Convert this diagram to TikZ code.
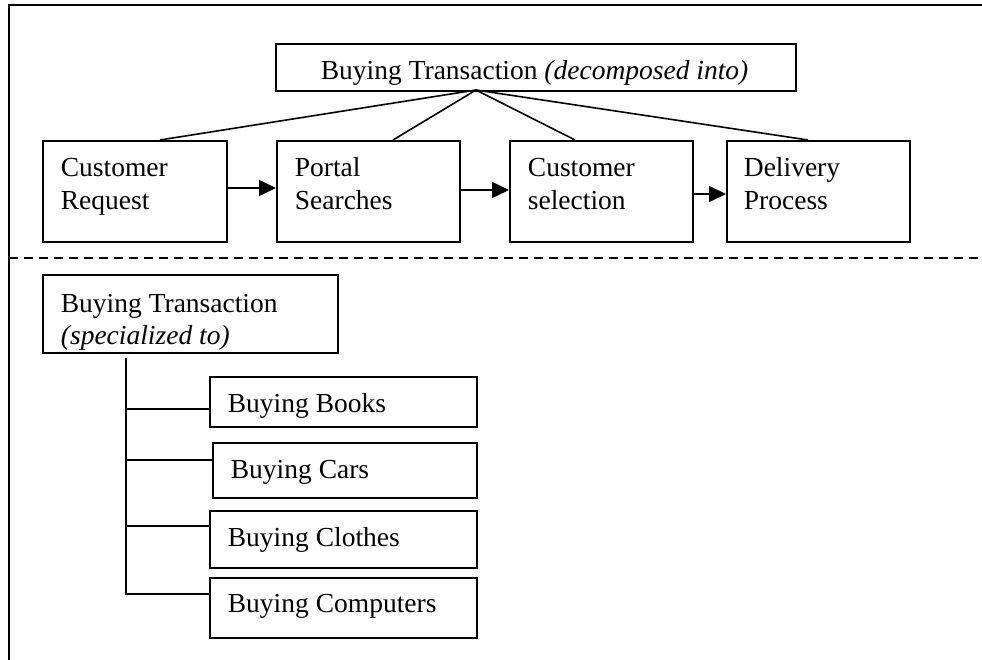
\documentclass[tikz,border=0pt]{standalone}
\usepackage{fontspec}
\setmainfont{Liberation Serif}
\usetikzlibrary{arrows.meta,calc}
\begin{document}
\begin{tikzpicture}[x=1pt,y=-1pt,
  line width=1.8pt,
  boxnode/.style={draw,line width=1.8pt,rectangle,anchor=north west,inner sep=0pt,minimum width=#1},
  lbl/.style={anchor=base west,inner sep=0pt,font=\fontsize{27.5}{33}\selectfont},
  arr/.style={-{Triangle[length=17pt,width=16pt]},line width=1.6pt},
  conn/.style={line width=1.6pt}
]
\useasboundingbox (0,0) rectangle (982,660);
% frame
\draw[line width=2pt] (9,660) -- (9,5) -- (982,5);
\draw[line width=1.6pt,dash pattern=on 9pt off 6pt] (9,258) -- (982,258);

% top row
\node[boxnode=520pt,minimum height=47pt] (top) at (275,43) {};
\node[lbl] (toplbl) at (320,80) {Buying Transaction \textit{(decomposed into)}};

\node[boxnode=184pt,minimum height=101pt] (cr) at (42,140) {};
\node[boxnode=183pt,minimum height=101pt] (ps) at (276,140) {};
\node[boxnode=183pt,minimum height=101pt] (cs) at (509,140) {};
\node[boxnode=183pt,minimum height=101pt] (dp) at (726,140) {};

\node[lbl] (cr1) at (60,177) {Customer};
\node[lbl] (cr2) at (60,210) {Request};
\node[lbl] (ps1) at (294,177) {Portal};
\node[lbl] (ps2) at (294,210) {Searches};
\node[lbl] (cs1) at (527,177) {Customer};
\node[lbl] (cs2) at (527,210) {selection};
\node[lbl] (dp1) at (743,177) {Delivery};
\node[lbl] (dp2) at (743,210) {Process};

\coordinate (apex) at (476,90);
\draw[conn] (apex) -- (160,0 |- cr.north);
\draw[conn] (apex) -- (393,0 |- ps.north);
\draw[conn] (apex) -- (575,0 |- cs.north);
\draw[conn] (apex) -- (808,0 |- dp.north);

\draw[arr] (cr.east |- 0,188) -- (ps.west |- 0,188);
\draw[arr] (ps.east |- 0,190) -- (cs.west |- 0,190);
\draw[arr] (cs.east |- 0,194) -- (dp.west |- 0,194);

% bottom part
\node[boxnode=295pt,minimum height=78pt] (spec) at (42,274) {};
\node[lbl] (spec1) at (60,312) {Buying Transaction};
\node[lbl] (spec2) at (60,344) {\textit{(specialized to)}};

\node[boxnode=267pt,minimum height=50pt] (books) at (209,376) {};
\node[boxnode=264pt,minimum height=55pt] (cars) at (212,442) {};
\node[boxnode=267pt,minimum height=57pt] (clothes) at (209,510) {};
\node[boxnode=267pt,minimum height=60pt] (comp) at (209,577) {};

\node[lbl] (bk) at (227,412) {Buying Books};
\node[lbl] (ca) at (230,478) {Buying Cars};
\node[lbl] (cl) at (227,546) {Buying Clothes};
\node[lbl] (co) at (227,612) {Buying Computers};

\coordinate (spine) at (126,358);
\draw[conn] (spine) |- (comp.west |- 0,594);
\draw[conn] (126,409) -- (books.west |- 0,409);
\draw[conn] (126,460) -- (cars.west |- 0,460);
\draw[conn] (126,526) -- (clothes.west |- 0,526);
\end{tikzpicture}
\end{document}
